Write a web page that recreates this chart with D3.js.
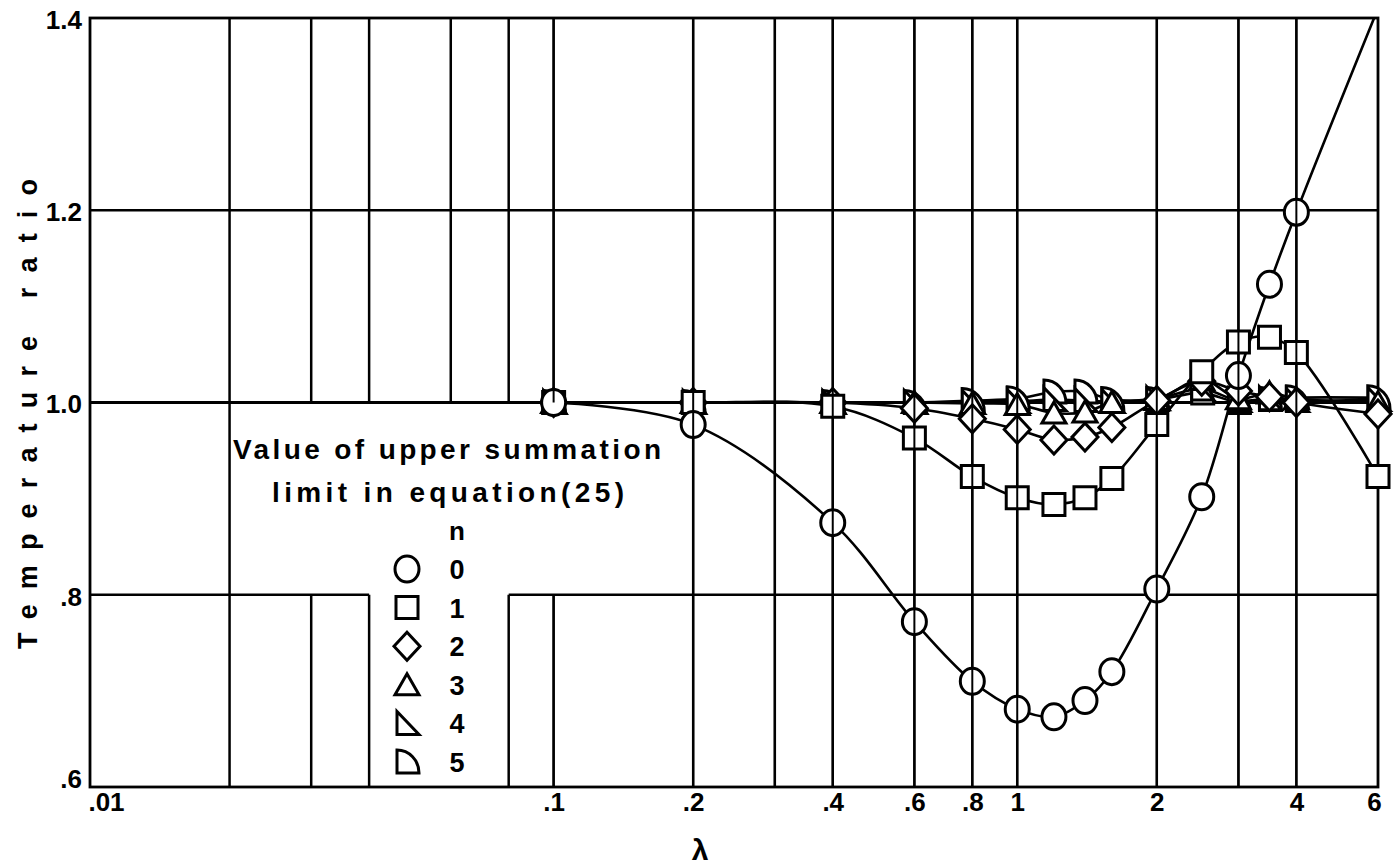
<!DOCTYPE html>
<html>
<head>
<meta charset="utf-8">
<script src="https://cdn.jsdelivr.net/npm/d3@7"></script>
<style>
  body { margin: 0; background: #fff; }
  text { font-family: "Liberation Sans", Arial, sans-serif; fill: #000; }
</style>
</head>
<body>
<div id="chart"></div>
<script>
// lambda values where the curves were computed
var lambdas = [0.1, 0.2, 0.4, 0.6, 0.8, 1, 1.2, 1.4, 1.6, 2, 2.5, 3, 3.5, 4, 6];

// temperature ratio for each upper summation limit n
var n0 = [1.0, 0.977, 0.875, 0.772, 0.710, 0.681, 0.673, 0.690, 0.720, 0.806, 0.902, 1.028, 1.123, 1.198, 1.41];
var n1 = [1.0, 1.0, 0.996, 0.963, 0.923, 0.901, 0.894, 0.901, 0.921, 0.977, 1.032, 1.063, 1.068, 1.052, 0.923];
var n2 = [1.0, 1.0, 1.0, 0.994, 0.983, 0.972, 0.961, 0.964, 0.974, 1.002, 1.022, 1.012, 1.006, 1.0, 0.988];
var n3 = [1.0, 1.0, 1.0, 1.0, 0.999, 0.998, 0.989, 0.990, 1.0, 1.003, 1.024, 1.004, 1.010, 1.004, 1.0];
var n4 = [1.0, 1.0, 1.0, 1.0, 1.0, 1.001, 1.003, 1.002, 1.001, 1.004, 1.014, 1.002, 1.004, 1.002, 1.003];
var n5 = [1.0, 1.0, 1.0, 1.0, 1.002, 1.004, 1.011, 1.011, 1.003, 1.003, 1.010, 1.0, 1.003, 1.005, 1.005];

var seriesNames = ["0", "1", "2", "3", "4", "5"];
var seriesShapes = ["circle", "square", "diamond", "triangle", "rtriangle", "quarter"];

var xTicks = [0.01, 0.1, 0.2, 0.4, 0.6, 0.8, 1, 2, 4, 6];
var xTickLabels = [".01", ".1", ".2", ".4", ".6", ".8", "1", "2", "4", "6"];
var yTicks = [0.6, 0.8, 1.0, 1.2, 1.4];
var yTickLabels = [".6", ".8", "1.0", "1.2", "1.4"];

// grid of the printed chart paper: [lambda, from, to]; some lines are cut for the legend
var vGrid = [
  [0.02, 0.6, 1.4], [0.03, 0.6, 0.8], [0.03, 1.0, 1.4], [0.04, 0.6, 0.8], [0.04, 1.0, 1.4],
  [0.06, 1.0, 1.4], [0.08, 0.6, 0.8], [0.08, 1.0, 1.4], [0.1, 0.6, 0.8], [0.1, 1.0, 1.4],
  [0.2, 0.6, 1.4], [0.3, 0.6, 1.4], [0.4, 0.6, 1.4], [0.6, 0.6, 1.4], [0.8, 0.6, 1.4],
  [1, 0.6, 1.4], [2, 0.6, 1.4], [3, 0.6, 1.4], [4, 0.6, 1.4]
];
var hGrid = [
  [0.8, 0.01, 0.04], [0.8, 0.08, 6], [1.0, 0.01, 6], [1.2, 0.01, 6]
];

var W = 1394, H = 867;
var margin = { top: 18, right: 16, bottom: 80, left: 90 };

var svg = d3.select("#chart").append("svg")
    .attr("width", W)
    .attr("height", H);

var x = d3.scaleLog()
    .domain([0.01, 6])
    .range([margin.left, W - margin.right]);

var y = d3.scaleLinear()
    .domain([0.6, 1.4])
    .range([H - margin.bottom, margin.top]);

svg.append("clipPath").attr("id", "plot")
  .append("rect")
    .attr("x", margin.left).attr("y", margin.top)
    .attr("width", x(6) - x(0.01)).attr("height", y(0.6) - y(1.4));

function vLines(g, rows, w) {
  g.selectAll(null).data(rows).enter().append("line")
      .attr("x1", function (d) { return x(d[0]); })
      .attr("x2", function (d) { return x(d[0]); })
      .attr("y1", function (d) { return y(d[1]); })
      .attr("y2", function (d) { return y(d[2]); })
      .attr("stroke", "#000").attr("stroke-width", w);
}

var gridG = svg.append("g");
vLines(gridG, vGrid, 2.5);
gridG.selectAll(null).data(hGrid).enter().append("line")
    .attr("y1", function (d) { return y(d[0]); })
    .attr("y2", function (d) { return y(d[0]); })
    .attr("x1", function (d) { return x(d[1]); })
    .attr("x2", function (d) { return x(d[2]); })
    .attr("stroke", "#000")
    .attr("stroke-width", function (d) { return d[0] === 1.0 ? 3.2 : 2.4; });
gridG.append("rect")
    .attr("x", x(0.01)).attr("y", y(1.4))
    .attr("width", x(6) - x(0.01)).attr("height", y(0.6) - y(1.4))
    .attr("fill", "none").attr("stroke", "#000").attr("stroke-width", 2.8);

// symbol paths centred on 0,0
function shapePath(shape) {
  switch (shape) {
    case "circle": return "M12,0A12,13 0 1,1 -12,0A12,13 0 1,1 12,0Z";
    case "square": return "M-11,-11H11V11H-11Z";
    case "diamond": return "M0,-14L13,0L0,14L-13,0Z";
    case "triangle": return "M0,-11L12,10H-12Z";
    case "rtriangle": return "M-10,-12V11H12Z";
    case "quarter": return "M-10,-12V11H12A22,23 0 0,0 -10,-12Z";
  }
}

var series = [n0, n1, n2, n3, n4, n5].map(function (vals, i) {
  return {
    name: seriesNames[i],
    shape: seriesShapes[i],
    points: lambdas.map(function (l, j) { return { lam: l, v: vals[j] }; })
  };
});

var line = d3.line()
    .x(function (d) { return x(d.lam); })
    .y(function (d) { return y(d.v); })
    .curve(d3.curveCatmullRom.alpha(0.5));

svg.append("g").attr("clip-path", "url(#plot)")
  .selectAll("path").data(series).enter().append("path")
    .attr("d", function (d) { return line(d.points); })
    .attr("fill", "none")
    .attr("stroke", "#000")
    .attr("stroke-width", 2.6);

// markers, last series first so circles and squares stay on top
var markG = svg.append("g");
series.slice().reverse().forEach(function (s) {
  markG.selectAll(null)
    .data(s.points.filter(function (p) { return p.v <= 1.4; }))
    .enter().append("path")
      .attr("transform", function (d) { return "translate(" + x(d.lam) + "," + y(d.v) + ")"; })
      .attr("d", shapePath(s.shape))
      .attr("fill", "#fff")
      .attr("stroke", "#000")
      .attr("stroke-width", 3);
});

// grid shows through the hollow symbols on the original paper
vLines(svg.append("g"), vGrid.filter(function (d) { return d[0] >= 0.1; }), 2);

// axes
var xAxis = svg.append("g")
    .attr("transform", "translate(0," + y(0.6) + ")")
    .call(d3.axisBottom(x).tickValues(xTicks).tickSize(0).tickPadding(6)
      .tickFormat(function (d, i) { return xTickLabels[i]; }));
xAxis.select(".domain").remove();
xAxis.selectAll("text")
    .style("font-size", "26px")
    .style("font-weight", "bold")
    .attr("dx", function (d) { return d === 0.01 ? 16 : (d === 6 ? -4 : 0); });

var yAxis = svg.append("g")
    .attr("transform", "translate(" + x(0.01) + ",0)")
    .call(d3.axisLeft(y).tickValues(yTicks).tickSize(0).tickPadding(8)
      .tickFormat(function (d, i) { return yTickLabels[i]; }));
yAxis.select(".domain").remove();
yAxis.selectAll("text")
    .style("font-size", "26px")
    .style("font-weight", "bold")
    .attr("dy", function (d) { return d === 0.6 ? "0" : "0.4em"; });

svg.append("text")
    .attr("x", 700)
    .attr("y", 860)
    .attr("text-anchor", "middle")
    .style("font-size", "30px")
    .style("font-weight", "bold")
    .text("λ");

svg.append("text")
    .attr("transform", "translate(37," + 414 + ") rotate(-90)")
    .attr("text-anchor", "middle")
    .attr("textLength", 470)
    .attr("lengthAdjust", "spacing")
    .style("font-size", "27px")
    .style("font-weight", "bold")
    .text("Temperature ratio");

// legend
var leg = svg.append("g");
leg.append("text")
    .attr("x", 447).attr("y", 459)
    .attr("text-anchor", "middle")
    .attr("textLength", 428).attr("lengthAdjust", "spacing")
    .style("font-size", "28px").style("font-weight", "bold")
    .text("Value of upper summation");
leg.append("text")
    .attr("x", 448).attr("y", 502)
    .attr("text-anchor", "middle")
    .attr("textLength", 352).attr("lengthAdjust", "spacing")
    .style("font-size", "28px").style("font-weight", "bold")
    .text("limit in equation(25)");
leg.append("text")
    .attr("x", 457).attr("y", 540)
    .attr("text-anchor", "middle")
    .style("font-size", "26px").style("font-weight", "bold")
    .text("n");

var rowY = d3.scaleLinear().domain([0, 5]).range([569, 762]);
series.forEach(function (s, i) {
  leg.append("path")
      .attr("transform", "translate(407," + rowY(i) + ")")
      .attr("d", shapePath(s.shape))
      .attr("fill", "#fff").attr("stroke", "#000").attr("stroke-width", 3);
  leg.append("text")
      .attr("x", 457).attr("y", rowY(i) + 10)
      .attr("text-anchor", "middle")
      .style("font-size", "27px")
      .style("font-weight", "bold")
      .text(s.name);
});
</script>
</body>
</html>
